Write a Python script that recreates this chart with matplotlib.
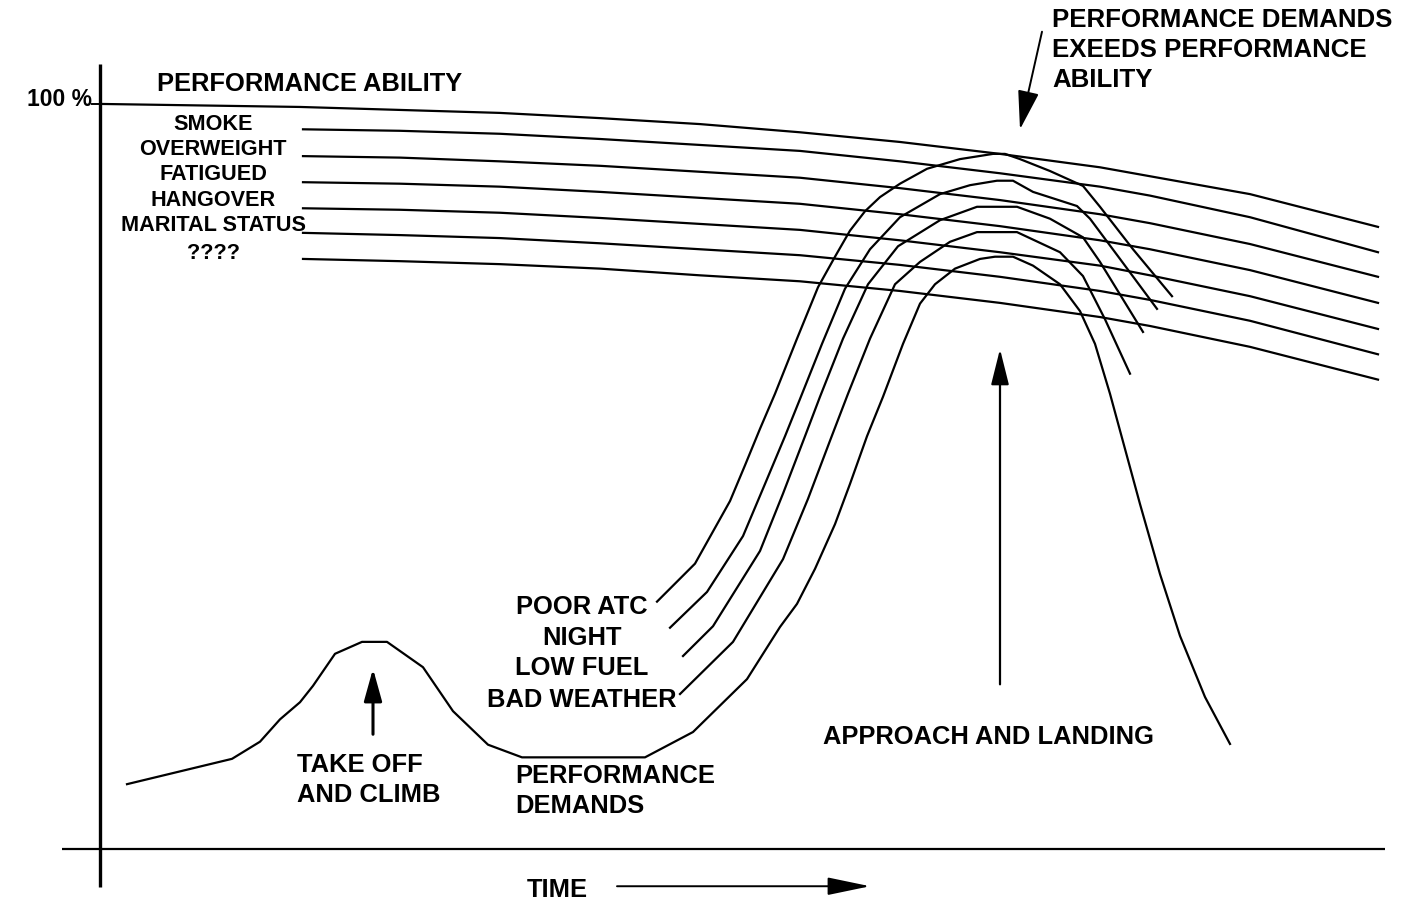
import matplotlib
matplotlib.use("Agg")
import matplotlib.pyplot as plt

plt.rcParams["font.family"] = ["Liberation Sans", "DejaVu Sans"]
plt.rcParams["font.weight"] = "bold"

# ---------------------------------------------------------------
# Performance ability (percent of full ability) over flight time
# ---------------------------------------------------------------
ability_time = [0.3, 20, 30, 40, 50, 60, 70, 80, 90, 100, 115, 127.8]
ability_full = [100.0, 99.6, 99.2, 98.8, 98.1, 97.3, 96.2, 94.9, 93.3, 91.5,
                87.9, 83.5]

factor_time = [20.3, 30, 40, 50, 60, 70, 80, 90, 100, 105, 115, 127.8]
ability_smoke = [96.6, 96.4, 96.0, 95.3, 94.5, 93.7, 92.3, 90.7, 88.9, 87.7,
                 84.8, 80.1]
ability_overweight = [93.0, 92.8, 92.3, 91.7, 90.9, 90.1, 88.7, 87.1, 85.2,
                      84.0, 81.2, 76.8]
ability_fatigued = [89.5, 89.3, 88.9, 88.2, 87.4, 86.6, 85.2, 83.6, 81.7,
                    80.5, 77.7, 73.3]
ability_hangover = [86.0, 85.8, 85.4, 84.7, 83.9, 83.1, 81.7, 80.1, 78.3,
                    77.0, 74.2, 69.8]
ability_marital = [82.7, 82.4, 82.0, 81.3, 80.5, 79.7, 78.4, 76.8, 74.9,
                   73.7, 70.9, 66.4]
ability_unknown = [79.2, 78.9, 78.5, 77.9, 77.0, 76.2, 74.9, 73.3, 71.4,
                   70.2, 67.4, 63.0]

factor_labels = ["SMOKE", "OVERWEIGHT", "FATIGUED", "HANGOVER",
                 "MARITAL STATUS", "????"]

# ---------------------------------------------------------------
# Performance demands over flight time
# ---------------------------------------------------------------
demand_time = [2.7, 13.2, 16.0, 18.0, 20.0, 21.3, 23.5, 26.2, 28.7, 32.3,
               35.3, 38.8, 42.2, 54.5, 59.3, 64.7, 68.0, 69.7, 71.5, 73.5,
               75.0, 76.7, 78.3, 80.3, 82.0, 83.5, 85.5, 88.0, 89.5, 91.3,
               93.3, 96.0, 98.0, 99.5, 101.0, 102.5, 104.0, 106.0, 108.0,
               110.5, 113.0]
demand_level = [8.7, 12.1, 14.4, 17.4, 19.7, 21.9, 26.2, 27.8, 27.8, 24.4,
                18.5, 14.0, 12.3, 12.3, 15.7, 22.8, 29.8, 32.9, 37.6, 43.6,
                49.0, 55.4, 60.7, 67.8, 73.2, 75.8, 77.9, 79.2, 79.5, 79.5,
                78.3, 75.8, 72.2, 67.8, 61.1, 53.7, 46.3, 36.9, 28.6,
                20.4, 14.1]

bad_weather_time = [58.0, 63.3, 68.3, 70.8, 73.0, 74.8, 77.0, 79.5, 82.0,
                    85.0, 87.7, 91.7, 96.0, 98.3, 100.5, 103.0]
bad_weather_level = [20.8, 27.8, 38.9, 47.0, 54.8, 61.1, 68.5, 75.8, 78.8,
                     81.5, 82.8, 82.8, 80.1, 76.9, 71.1, 63.8]

low_fuel_time = [58.3, 61.3, 66.0, 68.3, 70.5, 72.0, 74.3, 76.8, 79.8, 84.0,
                 87.7, 91.7, 95.0, 98.3, 100.0, 104.3]
low_fuel_level = [25.9, 29.9, 40.0, 47.7, 55.4, 60.7, 68.5, 75.8, 80.9, 84.4,
                  86.2, 86.2, 84.6, 82.1, 78.8, 69.4]

night_time = [57.0, 60.7, 64.3, 66.5, 68.5, 70.0, 72.2, 74.5, 77.0, 80.0,
              84.0, 87.0, 89.7, 91.3, 93.3, 97.7, 99.0, 102.0, 105.7]
night_level = [29.7, 34.5, 42.0, 49.0, 55.4, 60.4, 67.8, 75.2, 80.5, 84.8,
               87.9, 89.1, 89.7, 89.7, 88.2, 86.3, 84.6, 79.2, 72.5]

poor_atc_time = [55.7, 59.5, 63.0, 64.5, 66.0, 67.5, 69.7, 71.8, 73.5, 75.0,
                 76.5, 78.0, 80.0, 82.7, 86.0, 89.3, 90.5, 92.0, 95.0, 98.3,
                 100.0, 103.3, 107.2]
poor_atc_level = [33.2, 38.3, 46.7, 51.5, 56.4, 61.1, 68.5, 75.4, 79.5, 83.0,
                  85.6, 87.5, 89.3, 91.3, 92.6, 93.3, 93.3, 92.6, 91.0, 89.0,
                  86.2, 80.5, 74.2]

demand_labels = ["POOR ATC", "NIGHT", "LOW FUEL", "BAD WEATHER"]

# ---------------------------------------------------------------
fig = plt.figure(figsize=(14.01, 9.04), dpi=100)
ax = fig.add_axes([0, 0, 1, 1])
ax.set_xlim(-10, 130.1)
ax.set_ylim(-7.25, 114.09)
ax.axis("off")

ink = "black"
lw = 1.6

# axes of the diagram
ax.plot([-3.8, 128.5], [0, 0], color=ink, lw=1.6, solid_capstyle="butt")
ax.plot([0, 0], [-5.1, 105.4], color=ink, lw=2.4, solid_capstyle="butt")
ax.plot([-0.8, 0.3], [100, 100], color=ink, lw=1.4)

# ability lines
ax.plot(ability_time, ability_full, color=ink, lw=lw)
for series in (ability_smoke, ability_overweight, ability_fatigued,
               ability_hangover, ability_marital, ability_unknown):
    ax.plot(factor_time, series, color=ink, lw=lw)

# demand curves
ax.plot(demand_time, demand_level, color=ink, lw=lw)
ax.plot(bad_weather_time, bad_weather_level, color=ink, lw=lw)
ax.plot(low_fuel_time, low_fuel_level, color=ink, lw=lw)
ax.plot(night_time, night_level, color=ink, lw=lw)
ax.plot(poor_atc_time, poor_atc_level, color=ink, lw=lw)

# text
big = 18.4
small = 15.6
ax.text(-0.8, 100.7, "100 %", ha="right", va="center", fontsize=16.5,
        fontweight="bold")
ax.text(5.7, 102.8, "PERFORMANCE ABILITY", ha="left", va="center",
        fontsize=big, fontweight="bold")
factor_y = [97.4, 94.0, 90.7, 87.2, 83.8, 80.1]
for lab, yy in zip(factor_labels, factor_y):
    ax.text(11.3, yy, lab, ha="center", va="center", fontsize=small,
            fontweight="bold")

for lab, yy in zip(["PERFORMANCE DEMANDS", "EXEEDS PERFORMANCE", "ABILITY"],
                   [111.4, 107.4, 103.4]):
    ax.text(95.2, yy, lab, ha="left", va="center", fontsize=18.6,
            fontweight="bold")

demand_label_y = [32.6, 28.5, 24.4, 20.1]
for lab, yy in zip(demand_labels, demand_label_y):
    ax.text(48.2, yy, lab, ha="center", va="center", fontsize=big,
            fontweight="bold")

ax.text(41.5, 9.9, "PERFORMANCE", ha="left", va="center", fontsize=big,
        fontweight="bold")
ax.text(41.5, 5.9, "DEMANDS", ha="left", va="center", fontsize=big,
        fontweight="bold")
ax.text(19.7, 11.4, "TAKE OFF", ha="left", va="center", fontsize=big,
        fontweight="bold")
ax.text(19.7, 7.4, "AND CLIMB", ha="left", va="center", fontsize=big,
        fontweight="bold")
ax.text(72.3, 15.2, "APPROACH AND LANDING", ha="left", va="center",
        fontsize=big, fontweight="bold")
ax.text(42.7, -5.4, "TIME", ha="left", va="center", fontsize=big,
        fontweight="bold")

# arrows
def arrow(x0, y0, x1, y1, width, hl, hw, ms):
    ax.annotate("", xy=(x1, y1), xytext=(x0, y0),
                arrowprops=dict(arrowstyle=f"-|>,head_length={hl},head_width={hw}",
                                lw=width, color=ink, mutation_scale=ms,
                                shrinkA=0, shrinkB=0))

arrow(27.3, 15.4, 27.3, 24.2, 2.2, 0.9, 0.25, 22)
arrow(90.0, 22.1, 90.0, 67.1, 1.6, 1.0, 0.25, 22)
arrow(94.2, 109.7, 92.0, 96.6, 1.4, 1.1, 0.3, 22)
arrow(51.7, -5.0, 77.0, -5.0, 1.4, 1.2, 0.25, 22)

fig.savefig("out.png", dpi=100, facecolor="white")
